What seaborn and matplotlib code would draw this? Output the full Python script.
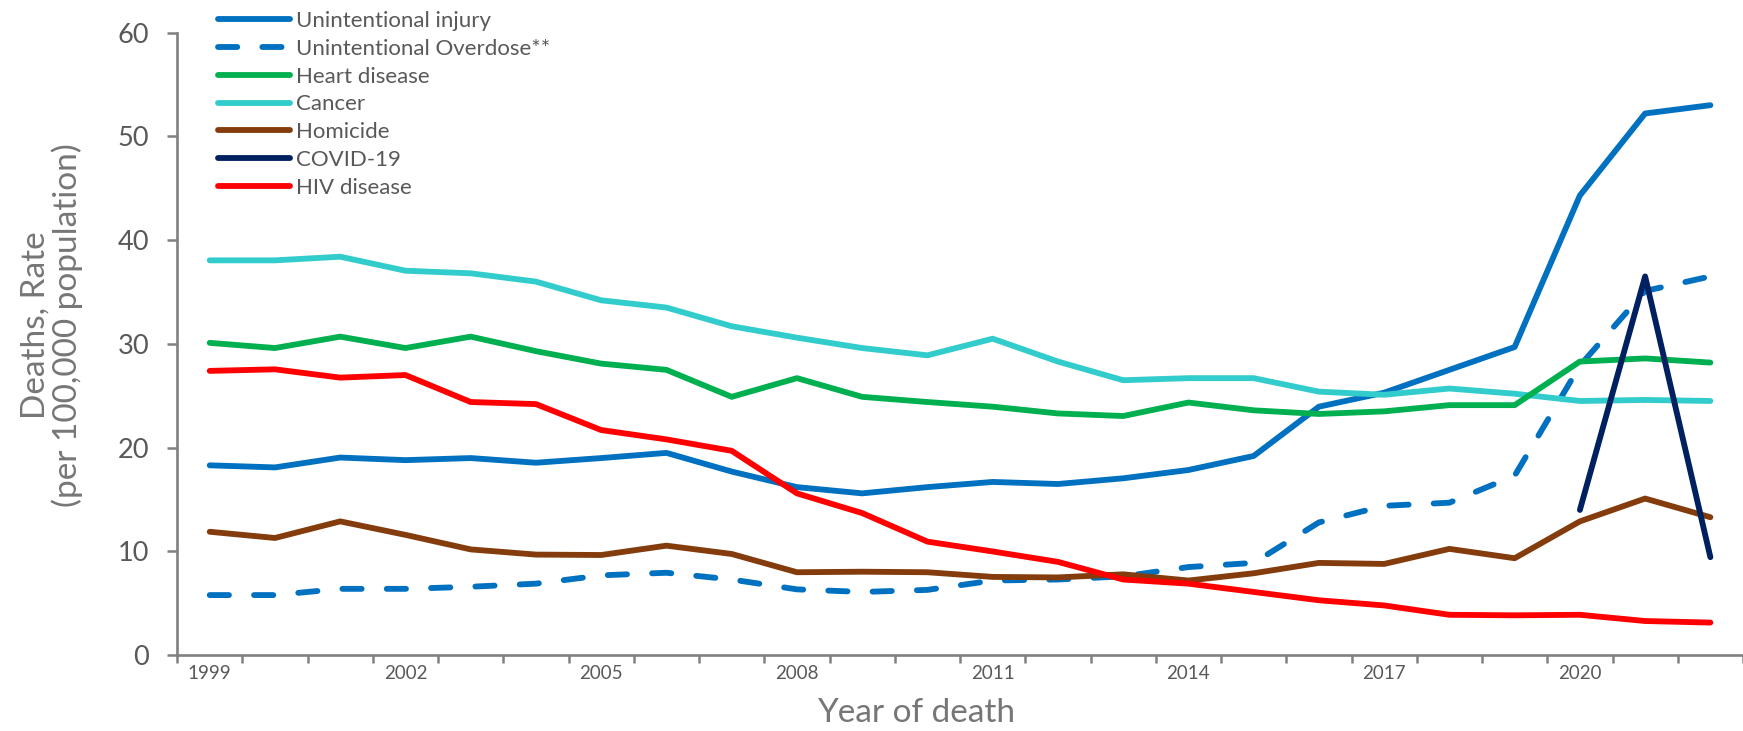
import numpy as np
import pandas as pd
import matplotlib
matplotlib.use("Agg")
import matplotlib.pyplot as plt
import seaborn as sns

# ---------------- data ----------------
years = list(range(1999, 2023))
injury = [18.3, 18.1, 19.05, 18.8, 19.0, 18.55, 19.0, 19.5, 17.7, 16.2, 15.6, 16.2,
          16.7, 16.5, 17.05, 17.85, 19.2, 23.95, 25.3, 27.5, 29.7, 44.3, 52.2, 53.0]
overdose = [5.8, 5.8, 6.4, 6.4, 6.6, 6.9, 7.7, 7.95, 7.3, 6.35, 6.1, 6.3,
            7.2, 7.3, 7.6, 8.5, 8.9, 12.8, 14.4, 14.7, 17.3, 27.9, 35.1, 36.5]
heart = [30.1, 29.6, 30.7, 29.6, 30.7, 29.3, 28.1, 27.5, 24.9, 26.7, 24.9, 24.4,
         23.95, 23.3, 23.05, 24.35, 23.6, 23.25, 23.5, 24.1, 24.1, 28.3, 28.6, 28.2]
cancer = [38.05, 38.05, 38.4, 37.05, 36.8, 36.0, 34.2, 33.5, 31.7, 30.6, 29.6, 28.9,
          30.5, 28.3, 26.5, 26.7, 26.7, 25.4, 25.1, 25.7, 25.2, 24.5, 24.6, 24.5]
homicide = [11.9, 11.3, 12.9, 11.6, 10.2, 9.7, 9.66, 10.56, 9.76, 8.0, 8.05, 8.0,
            7.55, 7.5, 7.8, 7.2, 7.9, 8.9, 8.8, 10.25, 9.35, 12.9, 15.1, 13.3]
covid_years = [2020, 2021, 2022]
covid = [14.0, 36.5, 9.45]
hiv = [27.4, 27.55, 26.75, 27.0, 24.4, 24.2, 21.7, 20.8, 19.7, 15.6, 13.7, 10.95,
       10.0, 9.0, 7.3, 6.9, 6.1, 5.3, 4.8, 3.9, 3.85, 3.9, 3.3, 3.15]

series_names = ["Unintentional injury", "Unintentional Overdose**", "Heart disease",
                "Cancer", "Homicide", "COVID-19", "HIV disease"]
tick_years = [1999, 2002, 2005, 2008, 2011, 2014, 2017, 2020]

# ---------------- style ----------------
sns.set_theme(style="white")
plt.rcParams["font.family"] = ["Lato", "DejaVu Sans"]
plt.rcParams["lines.solid_capstyle"] = "round"
plt.rcParams["lines.dash_capstyle"] = "round"
plt.rcParams["lines.solid_joinstyle"] = "round"
plt.rcParams["lines.dash_joinstyle"] = "round"

tick_col = "#595959"
title_col = "#767676"
axis_col = "#808080"

colors = {
    "Unintentional injury": "#0070C0",
    "Unintentional Overdose**": "#0070C0",
    "Heart disease": "#00B050",
    "Cancer": "#33CCCC",
    "Homicide": "#843C0C",
    "COVID-19": "#002060",
    "HIV disease": "#FF0000",
}

fig = plt.figure(figsize=(17.43, 7.31), dpi=100)
ax = fig.add_axes([0.1016, 0.1036, 0.8984, 0.8519])

pos = {y: i for i, y in enumerate(years)}
x_all = [pos[y] for y in years]
x_cov = [pos[y] for y in covid_years]

lw = 4.2
data_map = {
    "Unintentional injury": (x_all, injury, 3),
    "Unintentional Overdose**": (x_all, overdose, 2),
    "Heart disease": (x_all, heart, 4),
    "Cancer": (x_all, cancer, 3.5),
    "Homicide": (x_all, homicide, 4.5),
    "COVID-19": (x_cov, covid, 6),
    "HIV disease": (x_all, hiv, 5),
}

handles = {}
for name in series_names:
    xs, ys, z = data_map[name]
    sns.lineplot(x=xs, y=ys, ax=ax, color=colors[name], linewidth=lw,
                 zorder=z, legend=False)
    line = ax.get_lines()[-1]
    if name == "Unintentional Overdose**":
        line.set_dashes([3.3, 4.3])
    handles[name] = line

ax.set_xlim(-0.5, 23.42)
ax.set_ylim(0, 60)
ax.set_yticks(np.arange(0, 61, 10))
ax.set_xticks([pos[y] for y in tick_years])
ax.set_xticklabels([str(y) for y in tick_years])
ax.set_xticks(np.arange(-0.5, 24, 1), minor=True)

for s in ["top", "right"]:
    ax.spines[s].set_visible(False)
for s in ["left", "bottom"]:
    ax.spines[s].set_color(axis_col)
    ax.spines[s].set_linewidth(1.9)

ax.tick_params(axis="y", which="major", direction="out", length=7.2, width=1.8,
               color=axis_col, labelsize=19.5, labelcolor=tick_col, pad=13, left=True)
ax.tick_params(axis="x", which="major", length=0, labelsize=13.5,
               labelcolor=tick_col, pad=7, bottom=True)
ax.tick_params(axis="x", which="minor", direction="out", length=5.5, width=1.8,
               color=axis_col, bottom=True)
ax.set_xlabel("")
ax.set_ylabel("")
ax.grid(False)

fig.text(0.5255, 0.0125, "Year of death", ha="center", va="baseline",
         fontsize=24, color=title_col)
fig.text(0.0298, 0.555, "Deaths, Rate\n(per 100,000 population)", rotation=90,
         ha="center", va="center", multialignment="center", fontsize=24,
         color=title_col, linespacing=1.05)

leg = ax.legend([handles[n] for n in series_names], series_names,
                loc="upper left", bbox_to_anchor=(0.1249, 0.985),
                bbox_transform=fig.transFigure, frameon=False, fontsize=16,
                handlelength=3.24, handletextpad=0.3, labelspacing=0.35,
                borderpad=0, borderaxespad=0)
for t in leg.get_texts():
    t.set_color(tick_col)

fig.savefig("out.png", dpi=100)
